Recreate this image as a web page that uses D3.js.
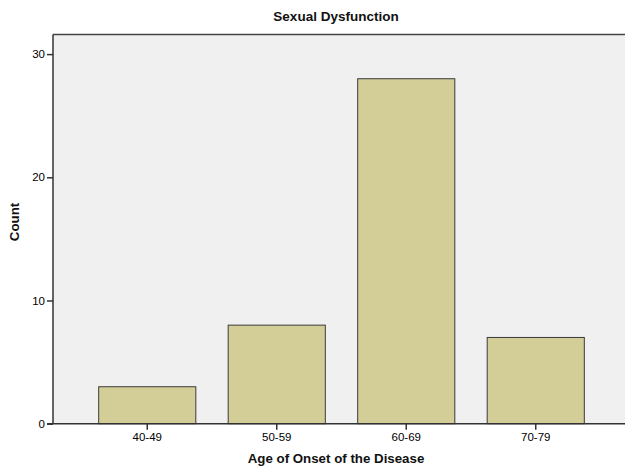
<!DOCTYPE html>
<html><head><meta charset="utf-8">
<script src="https://cdn.jsdelivr.net/npm/d3@7"></script>
<style>body{margin:0;background:#fff}svg{display:block}text{font-family:"Liberation Sans",Arial,sans-serif}</style>
</head><body><svg id="c" width="625" height="467"></svg>
<script>
const categories = ["40-49","50-59","60-69","70-79"];
const counts = [3, 8, 28, 7];
const yTicks = [0, 10, 20, 30];
const title = "Sexual Dysfunction";
const xTitle = "Age of Onset of the Disease";
const yTitle = "Count";

const svg = d3.select("#c");
const L = 53, T = 34.5, B = 423.7, R = 640;
const x = d3.scaleBand().domain(categories).range([82.5, 600.5]).paddingInner(0.25).paddingOuter(0.125);
const y = d3.scaleLinear().domain([0, 30]).range([B, B - 30 * 12.32]);

svg.append("rect").attr("x", L).attr("y", T).attr("width", R - L).attr("height", B - T)
  .attr("fill", "#f0f0f0");
svg.append("line").attr("x1", L).attr("x2", R).attr("y1", T).attr("y2", T).attr("stroke", "#444").attr("stroke-width", 1.5);

svg.selectAll("rect.bar").data(counts).join("rect").attr("class", "bar")
  .attr("x", (d, i) => x(categories[i]))
  .attr("width", x.bandwidth())
  .attr("y", d => y(d))
  .attr("height", d => y(0) - y(d))
  .attr("fill", "#d3ce98").attr("stroke", "#3a3a3a").attr("stroke-width", 1);

const ya = svg.append("g").attr("transform", `translate(${L},0)`)
  .call(d3.axisLeft(y).tickValues(yTicks).tickSize(6).tickSizeOuter(0).tickPadding(2));
ya.select(".domain").remove();
ya.append("line").attr("x1", 0).attr("x2", 0).attr("y1", T).attr("y2", B).attr("stroke", "#333").attr("stroke-width", 1.5);
ya.selectAll(".tick line").attr("stroke", "#333").attr("stroke-width", 1.5);
ya.selectAll("text").attr("font-size", 11.5).attr("fill", "#000").attr("font-family", "Liberation Sans, Arial, sans-serif");

const xa = svg.append("g").attr("transform", `translate(0,${B})`)
  .call(d3.axisBottom(x).tickSize(6).tickSizeOuter(0).tickPadding(3));
xa.select(".domain").remove();
xa.append("line").attr("x1", L - 6).attr("x2", R).attr("y1", 0).attr("y2", 0).attr("stroke", "#333").attr("stroke-width", 1.5);
xa.selectAll(".tick line").attr("stroke", "#333").attr("stroke-width", 1.5);
xa.selectAll("text").attr("font-size", 11.5).attr("fill", "#000").attr("font-family", "Liberation Sans, Arial, sans-serif");

svg.append("text").attr("x", 336).attr("y", 21).attr("text-anchor", "middle")
  .attr("font-size", 13.5).attr("font-weight", "bold").attr("fill", "#111").text(title);
svg.append("text").attr("x", 336).attr("y", 463).attr("text-anchor", "middle")
  .attr("font-size", 13.3).attr("font-weight", "bold").attr("fill", "#111").text(xTitle);
svg.append("text").attr("transform", "translate(19,222) rotate(-90)").attr("text-anchor", "middle")
  .attr("font-size", 13.3).attr("font-weight", "bold").attr("fill", "#111").text(yTitle);
</script></body></html>
